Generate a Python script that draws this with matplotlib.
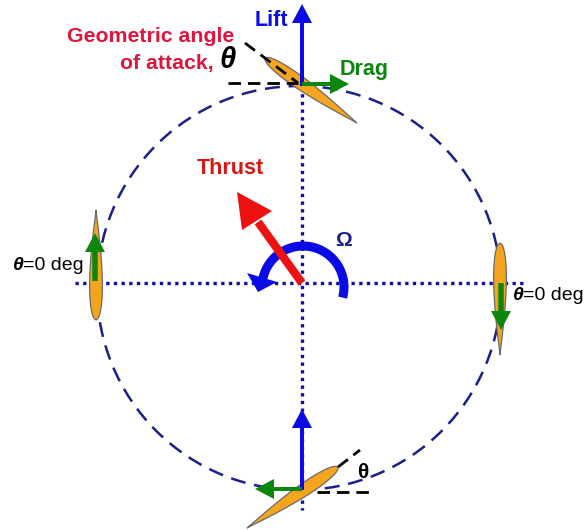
import numpy as np
import matplotlib
matplotlib.use("Agg")
import matplotlib.pyplot as plt
from matplotlib.patches import Circle, Arc, Polygon

plt.rcParams['font.family'] = ['Liberation Sans', 'DejaVu Sans']

NAVY = '#1b1f8a'
BLUE = '#0a0ae6'
GREEN = '#0c860c'
RED = '#ee1111'
ORANGE = '#f5a41e'
CRIMSON = '#e0143c'

# blades: leading end, trailing end
blades = [((265, 58), (357, 123)),
          ((338, 467), (247, 528)),
          ((96, 320), (96, 210)),
          ((500, 243), (500, 355))]

# force arrows: start, tip, colour, shaft width
forces = [((302, 86), (302, 4), BLUE, 4),
          ((302, 84), (349, 84), GREEN, 4),
          ((302, 490), (302, 409), BLUE, 4),
          ((302, 489), (255, 489), GREEN, 4),
          ((95, 281), (95, 233), GREEN, 5.5),
          ((501, 283), (501, 330), GREEN, 5.5)]

# reference dashes
dashes = [((228, 83), (298, 83)),
          ((245, 43), (298, 83)),
          ((317, 492), (370, 492)),
          ((338, 467), (360, 450))]


def draw_blade(ax, start, end, width=16):
    start = np.array(start, float)
    end = np.array(end, float)
    d = end - start
    n = np.array([-d[1], d[0]]) / np.hypot(*d)
    s = np.linspace(0, 1, 60)
    # thick near the leading end, thin towards the trailing end
    half = width / 2 * np.sqrt(np.clip(s, 0, 1)) * (1 - s) ** 1.1 * 2.15
    upper = start + np.outer(s, d) + np.outer(half, n)
    lower = start + np.outer(s, d) - np.outer(half, n)
    pts = np.vstack([upper, lower[::-1]])
    ax.add_patch(Polygon(pts, closed=True, fc=ORANGE, ec='#6b6b6b', lw=0.9, zorder=3))


def draw_force(ax, start, tip, color, width=4, head_w=20, head_l=19):
    ax.arrow(start[0], start[1], tip[0] - start[0], tip[1] - start[1],
             width=width, head_width=head_w, head_length=head_l,
             length_includes_head=True, fc=color, ec=color, lw=0, zorder=5)


fig = plt.figure(figsize=(5.85, 5.30), dpi=100)
ax = fig.add_axes([0, 0, 1, 1])
ax.set_xlim(0, 585)
ax.set_ylim(530, 0)
ax.axis('off')

# rotor path
ax.add_patch(Circle((299, 288), 202, fill=False, ec=NAVY, lw=1.8,
                    ls=(0, (6, 3.5)), zorder=1))

# axes through hub
ax.plot([75, 523], [283, 283], color='#1010a0', lw=2.4, ls=(0, (1, 1.3)), zorder=2)
ax.plot([302, 302], [86, 510], color='#1010a0', lw=2.4, ls=(0, (1, 1.3)), zorder=2)

for start, end in blades:
    draw_blade(ax, start, end)

for p, q in dashes:
    ax.plot([p[0], q[0]], [p[1], q[1]], color='black', lw=2, ls=(0, (4.5, 2.5)), zorder=4)

for start, tip, color, w in forces:
    draw_force(ax, start, tip, color, width=w)

# rotation arrow
ax.add_patch(Arc((303, 287), 82, 82, theta1=187, theta2=375, color=BLUE, lw=6.5, zorder=5))
ax.add_patch(Polygon([(247, 273), (277, 282), (258, 292)], closed=True, fc=BLUE, ec=BLUE, lw=0, zorder=5))

# thrust
ax.plot([302, 258], [283, 222], color=RED, lw=6, solid_capstyle='butt', zorder=6)
ax.add_patch(Polygon([(237, 192), (272, 211), (242, 230)], closed=True, fc=RED, ec=RED, lw=0, zorder=6))

# labels
ax.text(271, 20, 'Lift', color=BLUE, fontsize=15.5, fontweight='bold', ha='center', va='center')
ax.text(364, 70, 'Drag', color=GREEN, fontsize=15.5, fontweight='bold', ha='center', va='center')
ax.text(234, 36, 'Geometric angle', color=CRIMSON, fontsize=15.3, fontweight='bold', ha='right', va='center')
ax.text(214, 63, 'of attack,', color=CRIMSON, fontsize=15.3, fontweight='bold', ha='right', va='center')
ax.text(228, 60, 'θ', color='black', fontsize=21, ha='center', va='center',
        fontweight='bold', style='italic')
ax.text(230, 168, 'Thrust', color='#d91515', fontsize=15.5, fontweight='bold', ha='center', va='center')
ax.text(343, 241, 'Ω', color=NAVY, fontsize=15, fontweight='bold', ha='center', va='center')
ax.text(363, 472, 'θ', color='black', fontsize=15, fontweight='bold', ha='center', va='center')
for x, y in [(13, 265), (513, 295)]:
    ax.text(x, y, 'θ', color='black', fontsize=14, fontweight='bold', style='italic', ha='left', va='center')
    ax.text(x + 10, y, '=0 deg', color='black', fontsize=14, ha='left', va='center')

fig.savefig('out.png', dpi=100)
